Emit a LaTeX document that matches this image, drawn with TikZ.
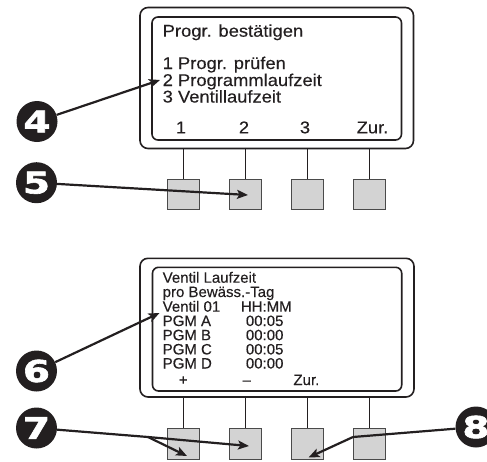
\documentclass[tikz,border=0pt]{standalone}
\usepackage{fontspec}
\setmainfont{Liberation Sans}
\newfontfamily\lcdtop[FakeStretch=1.08,FakeBold=0.3]{Liberation Sans}
\newfontfamily\lcdbot[FakeBold=0.3]{Liberation Sans}
\newfontfamily\badgefont[FakeStretch=1.3,FakeBold=2]{DejaVu Sans Bold}
\usetikzlibrary{arrows.meta}
\definecolor{ink}{HTML}{231F20}
\definecolor{btnfill}{HTML}{D3D3D3}
\definecolor{btnline}{HTML}{4A4A4A}
\tikzset{
  outerbox/.style={draw=ink,line width=1.6pt,rounded corners=8pt},
  innerbox/.style={draw=ink,line width=1.6pt,rounded corners=6pt},
  stem/.style={draw=ink,line width=1.2pt},
  btn/.style={draw=btnline,fill=btnfill,line width=1pt},
  toptext/.style={anchor=base west,inner sep=0pt,text=ink,font=\lcdtop\fontsize{17}{17}\selectfont},
  topkey/.style={anchor=base,inner sep=0pt,text=ink,font=\lcdtop\fontsize{17}{17}\selectfont},
  bottext/.style={anchor=base west,inner sep=0pt,text=ink,font=\lcdbot\fontsize{15}{15}\selectfont},
  botkey/.style={anchor=base,inner sep=0pt,text=ink,font=\lcdbot\fontsize{15}{15}\selectfont},
  badge/.style={circle,fill=ink,minimum width=41pt,minimum height=39pt,inner sep=0pt,text=white,font=\badgefont\fontsize{30}{30}\selectfont},
  arr/.style={draw=ink,line width=2.2pt,-{Stealth[length=11pt,width=9pt,inset=2.5pt]}},
  arrline/.style={draw=ink,line width=2.2pt}
}
\begin{document}
\begin{tikzpicture}[x=1pt,y=-1pt]
\useasboundingbox (0,0) rectangle (487,461);
\clip (0,0) rectangle (487,461);
% ---------- top panel ----------
\draw[outerbox] (140,7.5) rectangle (413.5,148.5);
\draw[innerbox] (152,17) rectangle (401.5,140);
\node[toptext] (t1) at (162.5,36.7) {Progr. bestätigen};
\node[toptext] (t2) at (162.5,69) {1 Progr. prüfen};
\node[toptext] (t3) at (162.5,86) {2 Programmlaufzeit};
\node[toptext] (t4) at (162.5,102.5) {3 Ventillaufzeit};
\node[topkey] (k1) at (181,133.3) {1};
\node[topkey] (k2) at (244,133.3) {2};
\node[topkey] (k3) at (305,133.3) {3};
\node[topkey] (k4) at (372.5,133.3) {Zur.};
\foreach \i/\x in {1/183.3,2/245.7,3/307.7,4/369.5}{
  \draw[stem] (\x,148.5) -- (\x,179);
  \node[btn,minimum width=32pt,minimum height=30.5pt,inner sep=0pt] (ba\i) at (\x,194.3) {};
}
% ---------- bottom panel ----------
\draw[outerbox] (140,258.3) rectangle (414,397);
\draw[innerbox] (152.5,267.3) rectangle (401.7,391);
\node[bottext] (u1) at (162.5,282.7) {Ventil Laufzeit};
\node[bottext] (u2) at (162.5,297) {pro Bewäss.-Tag};
\node[bottext] (u3) at (162.5,311.7) {Ventil 01};
\node[bottext] (u3b) at (240.7,311.7) {HH:MM};
\node[bottext] (u4) at (162.5,326) {PGM A};
\node[bottext] (u4b) at (245.7,326) {00:05};
\node[bottext] (u5) at (162.5,340.2) {PGM B};
\node[bottext] (u5b) at (245.7,340.2) {00:00};
\node[bottext] (u6) at (162.5,354.4) {PGM C};
\node[bottext] (u6b) at (245.7,354.4) {00:05};
\node[bottext] (u7) at (162.5,368.5) {PGM D};
\node[bottext] (u7b) at (245.7,368.5) {00:00};
\node[botkey] (m1) at (183.3,385) {+};
\node[botkey] (m2) at (246.7,385) {–};
\node[bottext] (m3) at (293.3,385) {Zur.};
\foreach \i/\x in {1/183.3,2/245.7,3/307.7,4/369.5}{
  \draw[stem] (\x,397) -- (\x,428.5);
  \node[btn,minimum width=32pt,minimum height=31pt,inner sep=0pt] (bb\i) at (\x,444) {};
}
% ---------- badges ----------
\node[badge] (b4) at (37,121.5) {4};
\node[badge] (b5) at (36.5,182.7) {5};
\node[badge] (b6) at (36.5,371) {6};
\node[badge] (b7) at (36.5,428) {7};
\node[badge] (b8) at (476,427) {8};
% ---------- arrows ----------
\coordinate (e4) at (160,80);
\coordinate (e5) at (248,195);
\coordinate (e6) at (159.5,313);
\coordinate (j7) at (148,437);
\coordinate (e7a) at (187,456);
\coordinate (e7b) at (249,446);
\coordinate (j8) at (353,437);
\coordinate (e8) at (308.5,457.5);
\draw[arr] (b4) -- (e4);
\draw[arr] (b5) -- (e5);
\draw[arr] (b6) -- (e6);
\draw[arrline] (b7) -- (j7);
\draw[arr] (j7) -- (e7a);
\draw[arr] (j7) -- (e7b);
\draw[arrline] (b8) -- (j8);
\draw[arr] (j8) -- (e8);
\end{tikzpicture}
\end{document}
